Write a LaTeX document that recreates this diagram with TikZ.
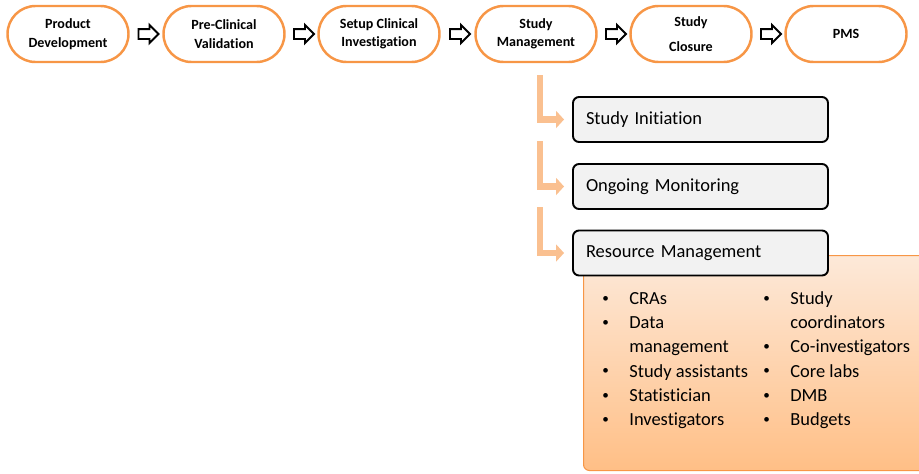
\documentclass[tikz,border=0pt]{standalone}
\usepackage{fontspec}
\setmainfont{Carlito}[Ligatures=CommonOff]
\usepackage{xcolor}
\usepackage{tikz}
\usetikzlibrary{shapes.arrows,arrows.meta,calc}

\definecolor{pillorange}{HTML}{F79646}
\definecolor{peach}{HTML}{FAC090}
\definecolor{peachtop}{HTML}{FDE9D9}
\definecolor{peachbot}{HTML}{FFBF86}
\definecolor{boxgray}{HTML}{F2F2F2}

\newcommand{\resdot}{\raisebox{1.2pt}{\fontsize{7.5}{7.5}\selectfont\textbullet}}

\begin{document}
\begin{tikzpicture}[
    pill/.style={draw=pillorange, line width=1.4pt, fill=white, rounded corners=0.56cm,
        minimum width=2.42cm, minimum height=1.12cm, align=center,
        font=\fontsize{8}{10.5}\selectfont\bfseries},
    blockarrow/.style={single arrow, draw=black, line width=1.1pt, fill=white,
        minimum height=0.4cm, inner xsep=0pt, inner ysep=0.08cm, single arrow head extend=0.08cm},
    stepbox/.style={draw=black, line width=1.1pt, fill=boxgray, rounded corners=0.12cm,
        minimum width=5.1cm, minimum height=0.9cm, text width=4.58cm, align=left,
        font=\fontsize{10.5}{12.6}\selectfont},
    resbox/.style={draw=pillorange, line width=0.6pt, top color=peachtop, bottom color=peachbot,
        rounded corners=0.12cm, anchor=north west},
    elbow/.style={draw=peach, line width=0.13cm, -{Triangle[width=0.34cm,length=0.16cm]}, shorten >=0.16cm},
    listcol/.style={anchor=north west, inner sep=0pt, font=\fontsize{10.5}{13.8}\selectfont}
]
    \useasboundingbox (0,0) rectangle (18.38,-9.46);

    % Process phases
    \node[pill] (p1) at (1.36,-0.68) {Product\\Development};
    \node[pill] (p2) at (4.48,-0.68) {Pre-Clinical\\Validation};
    \node[pill] (p3) at (7.58,-0.68) {Setup Clinical\\Investigation};
    \node[pill] (p4) at (10.72,-0.68) {Study\\Management};
    \node[pill] (p5) at (13.82,-0.68) {Study\\[3.5pt]Closure};
    \node[pill] (p6) at (16.92,-0.68) {PMS};

    % Block arrows between phases
    \node[blockarrow] (a1) at ($(p1.east)!0.5!(p2.west)$) {};
    \node[blockarrow] (a2) at ($(p2.east)!0.5!(p3.west)$) {};
    \node[blockarrow] (a3) at ($(p3.east)!0.5!(p4.west)$) {};
    \node[blockarrow] (a4) at ($(p4.east)!0.5!(p5.west)$) {};
    \node[blockarrow] (a5) at ($(p5.east)!0.5!(p6.west)$) {};

    % Resource list panel
    \node[resbox, minimum width=7.2cm, minimum height=4.3cm] (rb) at (11.66,-5.1) {};
    \node[listcol] (resL) at (12.04,-5.74) {%
        \begin{tabular}{@{}p{0.54cm}@{}l@{}}
        \resdot & CRAs\\
        \resdot & Data\\
                & management\\
        \resdot & Study assistants\\
        \resdot & Statistician\\
        \resdot & Investigators
        \end{tabular}};
    \node[listcol] (resR) at (15.26,-5.74) {%
        \begin{tabular}{@{}p{0.54cm}@{}l@{}}
        \resdot & Study\\
                & coordinators\\
        \resdot & Co-investigators\\
        \resdot & Core labs\\
        \resdot & DMB\\
        \resdot & Budgets
        \end{tabular}};

    % Study management steps
    \node[stepbox] (s1) at (14.01,-2.39) {Study Initiation};
    \node[stepbox] (s2) at (14.01,-3.73) {Ongoing Monitoring};
    \node[stepbox] (s3) at (14.01,-5.06) {Resource Management};

    % Elbow connectors
    \coordinate (k1) at (10.8,-1.5);
    \coordinate (k2) at (10.8,-2.82);
    \coordinate (k3) at (10.8,-4.14);
    \draw[elbow] (k1) |- (s1.west);
    \draw[elbow] (k2) |- (s2.west);
    \draw[elbow] (k3) |- (s3.west);
\end{tikzpicture}
\end{document}
